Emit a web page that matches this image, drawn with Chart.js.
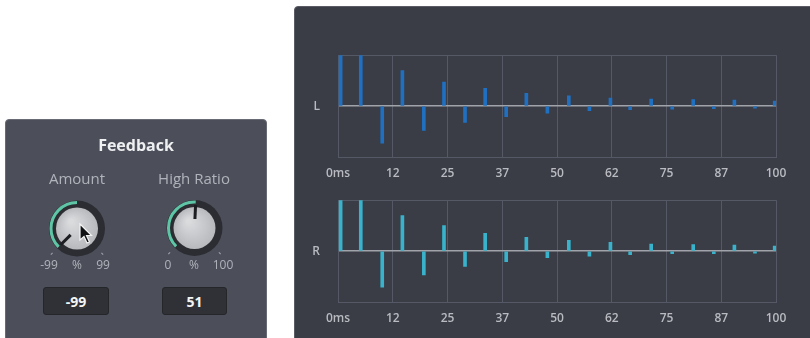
<!DOCTYPE html>
<html>
<head>
<meta charset="utf-8">
<script src="https://cdn.jsdelivr.net/npm/chart.js@4.4.1/dist/chart.umd.min.js"></script>
<style>
  html, body { margin: 0; padding: 0; }
  body { width: 810px; height: 338px; background: #ffffff; position: relative; overflow: hidden; font-family: "Open Sans", sans-serif; }
  .panel-fb { position: absolute; left: 5px; top: 119px; width: 262px; height: 230px; background: #4c4f5a; border: 1px solid #686b74; border-radius: 4px; box-sizing: border-box; }
  .panel-tap { position: absolute; left: 294px; top: 6px; width: 530px; height: 345px; background: #3a3c46; border: 1px solid #5a5c65; border-radius: 4px; box-sizing: border-box; }
  .txt { position: absolute; transform: translate(-50%, -50%); white-space: nowrap; line-height: 1; }
  .title { font-size: 16px; font-weight: 700; color: #eeeff1; }
  .lbl { font-size: 15px; color: #b0b3ba; }
  .rng { font-size: 12px; color: #b0b3ba; }
  .valbox { position: absolute; height: 28px; background: #2f3136; border: 1px solid #25262a; border-radius: 3px; box-sizing: border-box;
            color: #f4f4f4; font-size: 14px; font-weight: 700; display: flex; align-items: center; justify-content: center; }
  canvas { position: absolute; }
</style>
</head>
<body>
<div class="panel-fb"></div>
<div class="panel-tap"></div>

<canvas id="knobs" width="290" height="338" style="left:0;top:0"></canvas>

<div class="txt title" style="left:136px;top:145px">Feedback</div>
<div class="txt lbl" style="left:77px;top:178px">Amount</div>
<div class="txt lbl" style="left:194px;top:178px">High Ratio</div>
<div class="txt rng" style="left:49px;top:265px">-99</div>
<div class="txt rng" style="left:77px;top:265px">%</div>
<div class="txt rng" style="left:103px;top:265px">99</div>
<div class="txt rng" style="left:168px;top:265px">0</div>
<div class="txt rng" style="left:194px;top:265px">%</div>
<div class="txt rng" style="left:223px;top:265px">100</div>
<div class="valbox" style="left:43px;top:287px;width:66px">-99</div>
<div class="valbox" style="left:162px;top:287px;width:65px">51</div>

<canvas id="chartL" width="515" height="160" style="left:295px;top:30px"></canvas>
<canvas id="chartR" width="515" height="160" style="left:295px;top:175px"></canvas>

<script>
// tap times (ms) and levels of each echo
const delayMs = [0.6, 5.2, 10.1, 14.7, 19.6, 24.2, 29.0, 33.6, 38.4, 43.0, 47.8, 52.7, 57.4, 62.2, 66.7, 71.5, 76.3, 81.1, 85.8, 90.5, 95.2, 99.7];
const leftTaps  = [1.0, 1.0, -0.73, 0.70, -0.48, 0.47, -0.32, 0.35, -0.21, 0.25, -0.14, 0.20, -0.09, 0.16, -0.07, 0.14, -0.06, 0.13, -0.05, 0.12, -0.04, 0.10];
const rightTaps = [1.0, 1.0, -0.71, 0.70, -0.47, 0.50, -0.30, 0.35, -0.21, 0.27, -0.13, 0.21, -0.10, 0.17, -0.07, 0.14, -0.05, 0.13, -0.05, 0.12, -0.04, 0.10];
const xTickLabels = ['0ms', '12', '25', '37', '50', '62', '75', '87', '100'];

const GRID = '#555865';
const ZERO = '#a1a3aa';
const TEXT = '#b9bbc1';

function makeTapChart(id, channel, values, color) {
    const ctx = document.getElementById(id);
    return new Chart(ctx, {
        type: 'bar',
        data: {
            datasets: [{
                data: delayMs.map((t, i) => ({ x: t, y: values[i] })),
                backgroundColor: color,
                borderWidth: 0,
                barThickness: 3
            }]
        },
        options: {
            responsive: false,
            animation: false,
            devicePixelRatio: 1,
            layout: { padding: { left: 0, top: 18, right: 34, bottom: 0 } },
            plugins: { legend: { display: false }, tooltip: { enabled: false } },
            scales: {
                x: {
                    type: 'linear', min: 0, max: 100, offset: false,
                    ticks: {
                        stepSize: 12.5, autoSkip: false, maxRotation: 0, padding: 9,
                        color: TEXT, font: { family: 'Open Sans', size: 12, weight: '600' },
                        callback: (v, i) => xTickLabels[i]
                    },
                    grid: { color: GRID, drawTicks: false, offset: false },
                    border: { color: GRID },
                    afterFit: s => { s.height = 33; }
                },
                y: {
                    min: -1, max: 1,
                    ticks: {
                        stepSize: 1, padding: 18,
                        color: TEXT, font: { family: 'Open Sans', size: 12, weight: '600' },
                        callback: v => v === 0 ? channel : ''
                    },
                    grid: {
                        drawTicks: false,
                        color: c => (c.tick && c.tick.value === 0) ? ZERO : GRID,
                        lineWidth: c => (c.tick && c.tick.value === 0) ? 1.5 : 1
                    },
                    border: { color: GRID },
                    afterFit: s => { s.width = 43; }
                }
            }
        }
    });
}

makeTapChart('chartL', 'L', leftTaps, '#1f70c1');
makeTapChart('chartR', 'R', rightTaps, '#38b3cb');

// knobs of the Feedback panel
function drawKnob(g, cx, cy, fromDeg, toDeg, pointerDeg) {
    const rad = d => (d - 90) * Math.PI / 180;
    // range end marks
    g.strokeStyle = '#9c9fa6';
    g.lineWidth = 1.2;
    [-135, 135].forEach(a => {
        const dx = Math.sin(a * Math.PI / 180), dy = -Math.cos(a * Math.PI / 180);
        g.beginPath();
        g.moveTo(cx + dx * 34.5, cy + dy * 34.5);
        g.lineTo(cx + dx * 37, cy + dy * 37);
        g.stroke();
    });
    // dark ring
    g.fillStyle = '#2b2d32';
    g.beginPath(); g.arc(cx, cy, 28, 0, Math.PI * 2); g.fill();
    // value arc
    g.strokeStyle = '#5ec6a6';
    g.lineWidth = 3;
    g.beginPath(); g.arc(cx, cy, 26, rad(fromDeg), rad(toDeg)); g.stroke();
    // knob face
    const grad = g.createRadialGradient(cx - 6, cy - 7, 2, cx, cy, 21);
    grad.addColorStop(0, '#dadbdd');
    grad.addColorStop(1, '#b8b9bd');
    g.fillStyle = grad;
    g.beginPath(); g.arc(cx, cy, 21, 0, Math.PI * 2); g.fill();
    // pointer
    const px = Math.sin(pointerDeg * Math.PI / 180), py = -Math.cos(pointerDeg * Math.PI / 180);
    g.strokeStyle = '#1d1e22';
    g.lineWidth = 3;
    g.beginPath();
    g.moveTo(cx + px * 9, cy + py * 9);
    g.lineTo(cx + px * 23, cy + py * 23);
    g.stroke();
}

const kg = document.getElementById('knobs').getContext('2d');
drawKnob(kg, 77, 228.5, -135, 0, -135);
drawKnob(kg, 194.5, 228, -135, 2.7, 2.7);

// mouse cursor over the Amount knob
kg.save();
kg.translate(80, 224);
kg.beginPath();
kg.moveTo(0, 0); kg.lineTo(0, 16); kg.lineTo(4, 12.5); kg.lineTo(7, 19);
kg.lineTo(9.5, 18); kg.lineTo(6.5, 11.5); kg.lineTo(11.5, 11.5); kg.closePath();
kg.fillStyle = '#111214';
kg.strokeStyle = '#f2f2f2';
kg.lineWidth = 1.2;
kg.fill(); kg.stroke();
kg.restore();
</script>
</body>
</html>
